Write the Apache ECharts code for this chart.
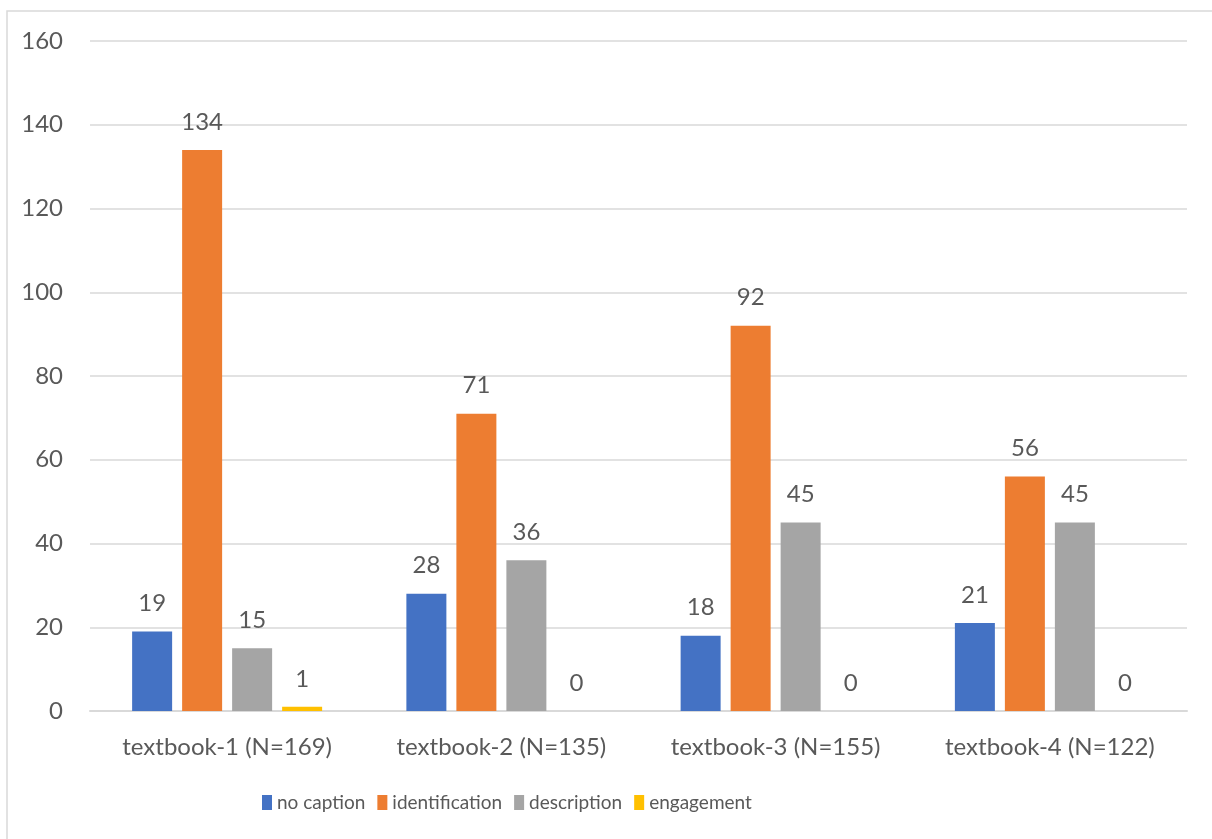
<!DOCTYPE html>
<html lang="en">
<head>
    <meta charset="UTF-8">
    <title>captions per textbook</title>
    <style>
        * { margin: 0; padding: 0; }
        body { background: #fff; }
        #chart { width: 1212px; height: 839px; }
    </style>
</head>
<body>
    <div id="chart"></div>
    <script src="https://cdn.jsdelivr.net/npm/echarts@6/dist/echarts.min.js"></script>
    <script>
        var categories = ['textbook-1 (N=169)', 'textbook-2 (N=135)', 'textbook-3 (N=155)', 'textbook-4 (N=122)'];
        var seriesNames = ['no caption', 'identification', 'description', 'engagement'];
        var noCaption = [19, 28, 18, 21];
        var identification = [134, 71, 92, 56];
        var description = [15, 36, 45, 45];
        var engagement = [1, 0, 0, 0];
        var colors = ['#4472C4', '#ED7D31', '#A5A5A5', '#FFC000'];

        var font = 'Lato';
        var textColor = '#595959';

        var chart = echarts.init(document.getElementById('chart'));

        function makeSeries(name, values, idx) {
            return {
                name: name,
                type: 'bar',
                data: values,
                barWidth: 40,
                barGap: '25%',
                itemStyle: { color: colors[idx] },
                label: {
                    show: true,
                    position: 'top',
                    distance: 16,
                    color: textColor,
                    fontFamily: font,
                    fontSize: 24
                }
            };
        }

        var option = {
            animation: false,
            graphic: [{
                type: 'rect',
                shape: { x: 7, y: 11, width: 1220, height: 840 },
                style: { fill: 'none', stroke: '#d9d9d9', lineWidth: 1.5 }
            }],
            grid: { left: 90, right: 25, top: 41, bottom: 128, containLabel: false },
            legend: {
                top: 788,
                left: 257,
                itemWidth: 10,
                itemHeight: 15,
                itemGap: 12,
                icon: 'rect',
                data: seriesNames,
                textStyle: { color: textColor, fontFamily: font, fontSize: 19 }
            },
            xAxis: {
                type: 'category',
                data: categories,
                axisLine: { lineStyle: { color: '#d9d9d9', width: 2 } },
                axisTick: { show: false },
                axisLabel: { color: textColor, fontFamily: font, fontSize: 24, margin: 24 }
            },
            yAxis: {
                type: 'value',
                min: 0,
                max: 160,
                interval: 20,
                axisLine: { show: false },
                axisTick: { show: false },
                splitLine: { lineStyle: { color: '#d9d9d9', width: 1.5 } },
                axisLabel: { color: textColor, fontFamily: font, fontSize: 24, margin: 27 }
            },
            series: [
                makeSeries(seriesNames[0], noCaption, 0),
                makeSeries(seriesNames[1], identification, 1),
                makeSeries(seriesNames[2], description, 2),
                makeSeries(seriesNames[3], engagement, 3)
            ]
        };

        chart.setOption(option);
    </script>
</body>
</html>
